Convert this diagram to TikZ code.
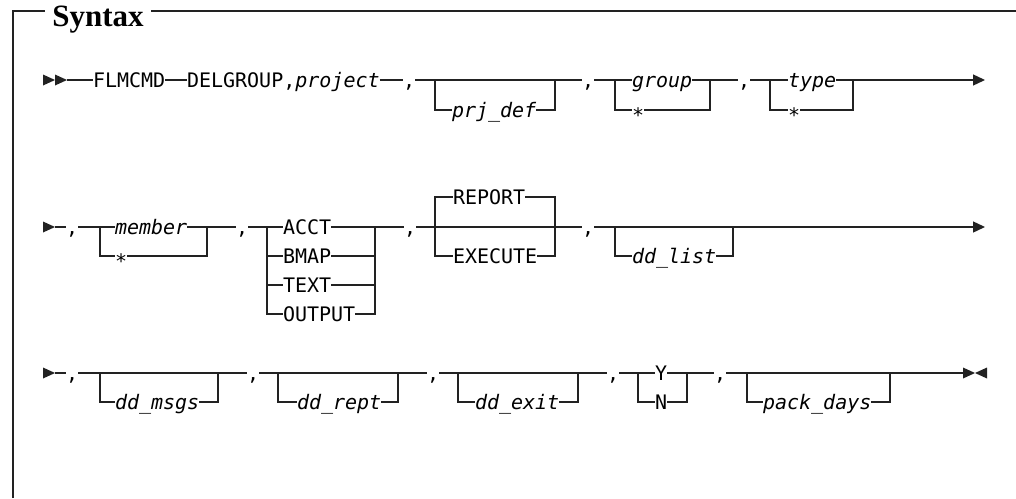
\documentclass[tikz,border=0pt]{standalone}
\usepackage{fontspec}
\setmainfont{Liberation Serif}
\setmonofont{DejaVu Sans Mono}
\usepackage{tikz}
\usetikzlibrary{arrows.meta, calc}
\definecolor{railink}{HTML}{222222}

\tikzset{
  rail/.style={draw=railink, line width=0.65pt},
  kw/.style={font=\fontsize{10}{12}\selectfont\ttfamily, text=black, inner sep=0pt,
    outer sep=0pt, text height=7.2pt, text depth=0pt, anchor=west},
  var/.style={kw, font=\fontsize{10}{12}\selectfont\ttfamily\itshape},
  head/.style={font=\fontsize{15.5}{18}\selectfont\bfseries, anchor=base west,
    inner xsep=3.5pt, inner ysep=0pt},
  railend/.style={rail, -{Triangle[length=6pt, width=5.5pt]}},
}
\newcommand{\railstar}{\raisebox{-2.5pt}{*}}

\begin{document}
\begin{tikzpicture}[x=0.5pt, y=-0.5pt]
  \useasboundingbox (0,0) rectangle (1016,498);
  % frame
  \coordinate (ftl) at (13,11);
  \coordinate (fbl) at (13,498);
  \coordinate (ftr) at (1016,11);
  \node[head] (syntax) at (45,26) {Syntax};
  \draw[rail] (fbl) -- (ftl) -- (ftl -| syntax.west);
  \draw[rail] (syntax.east |- ftr) -- (ftr);

  % row 1
  \foreach \x in {43,55}
    \fill[railink] (\x,74.5) -- ++(12,5.5) -- ++(-12,5.5) -- cycle;
  \coordinate (r1in) at (67,80);
  \node[kw] (flmcmd) at (93,80) {FLMCMD};
  \node[kw] (delgrp) at (187,80) {DELGROUP,\textit{project}};
  \node[kw] (c1) at (403,80) {,};
  \coordinate (j1a) at (435,80);
  \coordinate (j1b) at (555,80);
  \node[var] (prjdef) at (452,110) {prj\_def};
  \node[kw] (c2) at (582,80) {,};
  \coordinate (j2a) at (615,80);
  \coordinate (j2b) at (710,80);
  \node[var] (group) at (632,80) {group};
  \node[kw] (grpstar) at (632,110) {\railstar};
  \node[kw] (c3) at (738,80) {,};
  \coordinate (j3a) at (770,80);
  \coordinate (j3b) at (853,80);
  \node[var] (type) at (788,80) {type};
  \node[kw] (typestar) at (788,110) {\railstar};
  \coordinate (r1out) at (985,80);

  \draw[rail] (r1in) -- (flmcmd.west) (flmcmd.east) -- (delgrp.west)
    (delgrp.east) -- (c1.west) (c1.east) -- (j1a) -- (j1b) -- (c2.west)
    (c2.east) -- (j2a) -- (group.west) (group.east) -- (j2b) -- (c3.west)
    (c3.east) -- (j3a) -- (type.west) (type.east) -- (j3b);
  \draw[rail] (j1a) |- (prjdef.west) (prjdef.east) -| (j1b);
  \draw[rail] (j2a) |- (grpstar.west) (grpstar.east) -| (j2b);
  \draw[rail] (j3a) |- (typestar.west) (typestar.east) -| (j3b);
  \draw[railend] (j3b) -- (r1out);

  % row 2
  \foreach \y in {227,373}
    \fill[railink] (43,\y-5.5) -- ++(12,5.5) -- ++(-12,5.5) -- cycle;
  \coordinate (r2in) at (55,227);
  \node[kw] (c4) at (66,227) {,};
  \coordinate (j4a) at (100,227);
  \coordinate (j4b) at (207,227);
  \node[var] (member) at (115,227) {member};
  \node[kw] (memstar) at (115,256) {\railstar};
  \node[kw] (c5) at (236,227) {,};
  \coordinate (j5a) at (267,227);
  \coordinate (j5b) at (375,227);
  \node[kw] (acct) at (283,227) {ACCT};
  \node[kw] (bmap) at (283,256) {BMAP};
  \node[kw] (text) at (283,285) {TEXT};
  \node[kw] (output) at (283,314) {OUTPUT};
  \node[kw] (c6) at (404,227) {,};
  \coordinate (j6a) at (435,227);
  \coordinate (j6b) at (555,227);
  \node[kw] (report) at (453,197) {REPORT};
  \node[kw] (execute) at (453,256) {EXECUTE};
  \node[kw] (c7) at (582,227) {,};
  \coordinate (j7a) at (615,227);
  \coordinate (j7b) at (733,227);
  \node[var] (ddlist) at (632,256) {dd\_list};
  \coordinate (r2out) at (985,227);

  \draw[rail] (r2in) -- (c4.west) (c4.east) -- (j4a) -- (member.west)
    (member.east) -- (j4b) -- (c5.west) (c5.east) -- (j5a) -- (acct.west)
    (acct.east) -- (j5b) -- (c6.west) (c6.east) -- (j6a) -- (j6b) -- (c7.west)
    (c7.east) -- (j7a) -- (j7b);
  \draw[rail] (j4a) |- (memstar.west) (memstar.east) -| (j4b);
  \draw[rail] (j5a) |- (output.west) (output.east) -| (j5b);
  \draw[rail] (j5a |- bmap) -- (bmap.west) (bmap.east) -- (j5b |- bmap);
  \draw[rail] (j5a |- text) -- (text.west) (text.east) -- (j5b |- text);
  \draw[rail] (j6a) |- (report.west) (report.east) -| (j6b);
  \draw[rail] (j6a) |- (execute.west) (execute.east) -| (j6b);
  \draw[rail] (j7a) |- (ddlist.west) (ddlist.east) -| (j7b);
  \draw[railend] (j7b) -- (r2out);

  % row 3
  \coordinate (r3in) at (55,373);
  \node[kw] (c8) at (66,373) {,};
  \coordinate (j8a) at (100,373);
  \coordinate (j8b) at (218,373);
  \node[var] (ddmsgs) at (115,402) {dd\_msgs};
  \node[kw] (c9) at (247,373) {,};
  \coordinate (j9a) at (278,373);
  \coordinate (j9b) at (398,373);
  \node[var] (ddrept) at (297,402) {dd\_rept};
  \node[kw] (c10) at (427,373) {,};
  \coordinate (j10a) at (458,373);
  \coordinate (j10b) at (578,373);
  \node[var] (ddexit) at (475,402) {dd\_exit};
  \node[kw] (c11) at (607,373) {,};
  \coordinate (j11a) at (638,373);
  \coordinate (j11b) at (687,373);
  \node[kw] (yes) at (655,373) {Y};
  \node[kw] (no) at (655,402) {N};
  \node[kw] (c12) at (714,373) {,};
  \coordinate (j12a) at (747,373);
  \coordinate (j12b) at (890,373);
  \node[var] (packdays) at (763,402) {pack\_days};
  \coordinate (r3out) at (963,373);

  \draw[rail] (r3in) -- (c8.west) (c8.east) -- (j8a) -- (j8b) -- (c9.west)
    (c9.east) -- (j9a) -- (j9b) -- (c10.west) (c10.east) -- (j10a) -- (j10b)
    -- (c11.west) (c11.east) -- (j11a) -- (yes.west) (yes.east) -- (j11b)
    -- (c12.west) (c12.east) -- (j12a) -- (j12b) -- (r3out);
  \draw[rail] (j8a) |- (ddmsgs.west) (ddmsgs.east) -| (j8b);
  \draw[rail] (j9a) |- (ddrept.west) (ddrept.east) -| (j9b);
  \draw[rail] (j10a) |- (ddexit.west) (ddexit.east) -| (j10b);
  \draw[rail] (j11a) |- (no.west) (no.east) -| (j11b);
  \draw[rail] (j12a) |- (packdays.west) (packdays.east) -| (j12b);
  \fill[railink] (r3out) -- ++(0,-5.5) -- ++(12,5.5) -- ++(-12,5.5) -- cycle;
  \fill[railink] (987,367.5) -- ++(-12,5.5) -- ++(12,5.5) -- cycle;
\end{tikzpicture}
\end{document}
